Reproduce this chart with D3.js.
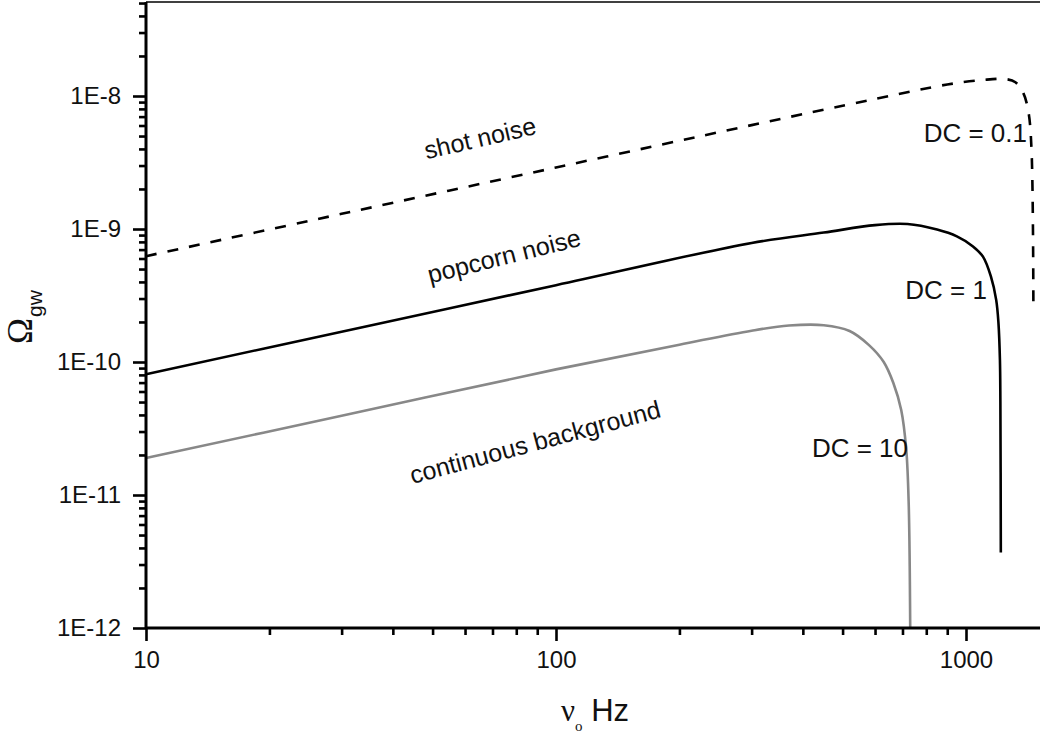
<!DOCTYPE html>
<html>
<head>
<meta charset="utf-8">
<script src="https://cdn.jsdelivr.net/npm/d3@7"></script>
<style>
  body { margin: 0; background: #fff; }
  text { font-family: "Liberation Sans", Arial, sans-serif; }
</style>
</head>
<body>
<svg id="chart" width="1040" height="739"></svg>
<script>
// shot noise, DC = 0.1 (dashed)
const shotFreq = [10, 30, 100, 300, 600, 900, 1100, 1250, 1320, 1380, 1420, 1445, 1460];
const shotOmega = [6.25e-10, 1.30e-9, 2.90e-9, 6.04e-9, 9.5e-9, 1.22e-8, 1.32e-8, 1.34e-8, 1.27e-8, 1.05e-8, 7.6e-9, 3.9e-9, 2.6e-10];

// popcorn noise, DC = 1 (solid black)
const popFreq = [10, 30, 100, 300, 450, 600, 720, 850, 950, 1040, 1100, 1150, 1185, 1200, 1210, 1213, 1216];
const popOmega = [8.1e-11, 1.69e-10, 3.78e-10, 7.85e-10, 9.4e-10, 1.07e-9, 1.09e-9, 9.9e-10, 8.8e-10, 7.4e-10, 6.2e-10, 4.4e-10, 2.92e-10, 1.96e-10, 1.03e-10, 5e-11, 3.7e-12];

// continuous background, DC = 10 (grey)
const contFreq = [10, 30, 100, 200, 300, 370, 450, 520, 580, 630, 665, 695, 715, 725, 731];
const contOmega = [1.90e-11, 3.94e-11, 8.8e-11, 1.35e-10, 1.72e-10, 1.88e-10, 1.89e-10, 1.71e-10, 1.34e-10, 1.0e-10, 6.95e-11, 4.36e-11, 2.19e-11, 8.4e-12, 1.0e-12];

const xMajor = [10, 100, 1000];
const xMajorLabels = ["10", "100", "1000"];
const yMajor = [1e-12, 1e-11, 1e-10, 1e-9, 1e-8];
const yMajorLabels = ["1E-12", "1E-11", "1E-10", "1E-9", "1E-8"];

const svg = d3.select("#chart");

const plotLeft = 146, plotBottom = 628, plotTop = 2, plotRight = 1040;

const x = d3.scaleLog().domain([10, 1000]).range([plotLeft, 966]);
const y = d3.scaleLog().domain([1e-12, 1e-8]).range([plotBottom, 96]);

// minor ticks
const xMinor = [];
[10, 100, 1000].forEach(d => { for (let n = 2; n <= 9; n++) xMinor.push(d * n); });
const xMinorIn = xMinor.filter(v => x(v) <= plotRight);
const yMinor = [];
[1e-12, 1e-11, 1e-10, 1e-9, 1e-8].forEach(d => { for (let n = 2; n <= 9; n++) yMinor.push(d * n); });
const yMinorIn = yMinor.filter(v => y(v) >= plotTop);

// frame top line
svg.append("line")
    .attr("x1", plotLeft).attr("x2", plotRight)
    .attr("y1", plotTop).attr("y2", plotTop)
    .attr("stroke", "#000").attr("stroke-width", 1.3);

// curves
const line = d3.line()
    .x(d => x(d[0]))
    .y(d => y(d[1]))
    .curve(d3.curveCatmullRom.alpha(0.5));

const series = [
    { f: shotFreq, o: shotOmega, color: "#000", dash: "11,11" },
    { f: popFreq, o: popOmega, color: "#000", dash: null },
    { f: contFreq, o: contOmega, color: "#888", dash: null }
];

svg.append("g")
    .selectAll("path")
    .data(series)
    .enter().append("path")
    .attr("d", s => line(s.f.map((v, i) => [v, s.o[i]])))
    .attr("fill", "none")
    .attr("stroke", s => s.color)
    .attr("stroke-width", 2.6)
    .attr("stroke-dasharray", s => s.dash);

// x axis
const xAxisMinor = svg.append("g")
    .attr("transform", `translate(0,${plotBottom})`)
    .call(d3.axisBottom(x).tickValues(xMinorIn).tickSize(7).tickFormat(""));
xAxisMinor.select(".domain").remove();

const xAxis = svg.append("g")
    .attr("transform", `translate(0,${plotBottom})`)
    .call(d3.axisBottom(x).tickValues(xMajor).tickSize(13).tickPadding(10)
        .tickFormat((d, i) => xMajorLabels[i]));
xAxis.select(".domain").attr("d", `M${plotLeft},0H${plotRight}`);

// y axis
const yAxisMinor = svg.append("g")
    .attr("transform", `translate(${plotLeft},0)`)
    .call(d3.axisLeft(y).tickValues(yMinorIn).tickSize(7).tickFormat(""));
yAxisMinor.select(".domain").remove();

const yAxis = svg.append("g")
    .attr("transform", `translate(${plotLeft},0)`)
    .call(d3.axisLeft(y).tickValues(yMajor).tickSize(13).tickPadding(12)
        .tickFormat((d, i) => yMajorLabels[i]));
yAxis.select(".domain").attr("d", `M0,${plotTop}V${plotBottom}`);

svg.selectAll(".domain").attr("stroke", "#000").attr("stroke-width", 3);
svg.selectAll(".tick line").attr("stroke", "#000").attr("stroke-width", 2.6);
svg.selectAll(".tick text")
    .attr("fill", "#111")
    .style("font-family", "'Liberation Sans', Arial, sans-serif")
    .style("font-size", "24px");

// axis titles
const xt = svg.append("text")
    .attr("x", 561).attr("y", 721)
    .style("font-size", "31px").attr("fill", "#111");
xt.append("tspan").text("ν").style("font-family", "'Liberation Serif', serif");
xt.append("tspan").text("o").attr("dy", 10)
    .style("font-family", "'Liberation Serif', serif").style("font-size", "15px");
xt.append("tspan").text(" Hz").attr("dy", -10);

const yt = svg.append("text")
    .attr("transform", "translate(32,344) rotate(-90)")
    .attr("fill", "#111");
yt.append("tspan").text("Ω").style("font-family", "'Liberation Serif', serif").style("font-size", "35px");
yt.append("tspan").text("gw").attr("dy", 10).attr("dx", 1).style("font-size", "21px");

// curve labels
const notes = [
    { t: "shot noise", x: 480, y: 138, a: -13 },
    { t: "popcorn noise", x: 504, y: 256, a: -14 },
    { t: "continuous background", x: 535, y: 442, a: -15 }
];
svg.append("g")
    .selectAll("text")
    .data(notes)
    .enter().append("text")
    .attr("transform", d => `translate(${d.x},${d.y}) rotate(${d.a})`)
    .attr("text-anchor", "middle")
    .attr("dy", "0.35em")
    .attr("fill", "#111")
    .style("font-size", "25px")
    .text(d => d.t);

const dcLabels = [
    { t: "DC = 0.1", x: 1027, y: 142 },
    { t: "DC = 1", x: 987, y: 299 },
    { t: "DC = 10", x: 908, y: 457 }
];
svg.append("g")
    .selectAll("text")
    .data(dcLabels)
    .enter().append("text")
    .attr("x", d => d.x).attr("y", d => d.y)
    .attr("text-anchor", "end")
    .attr("fill", "#111")
    .style("font-size", "26px")
    .text(d => d.t);
</script>
</body>
</html>
